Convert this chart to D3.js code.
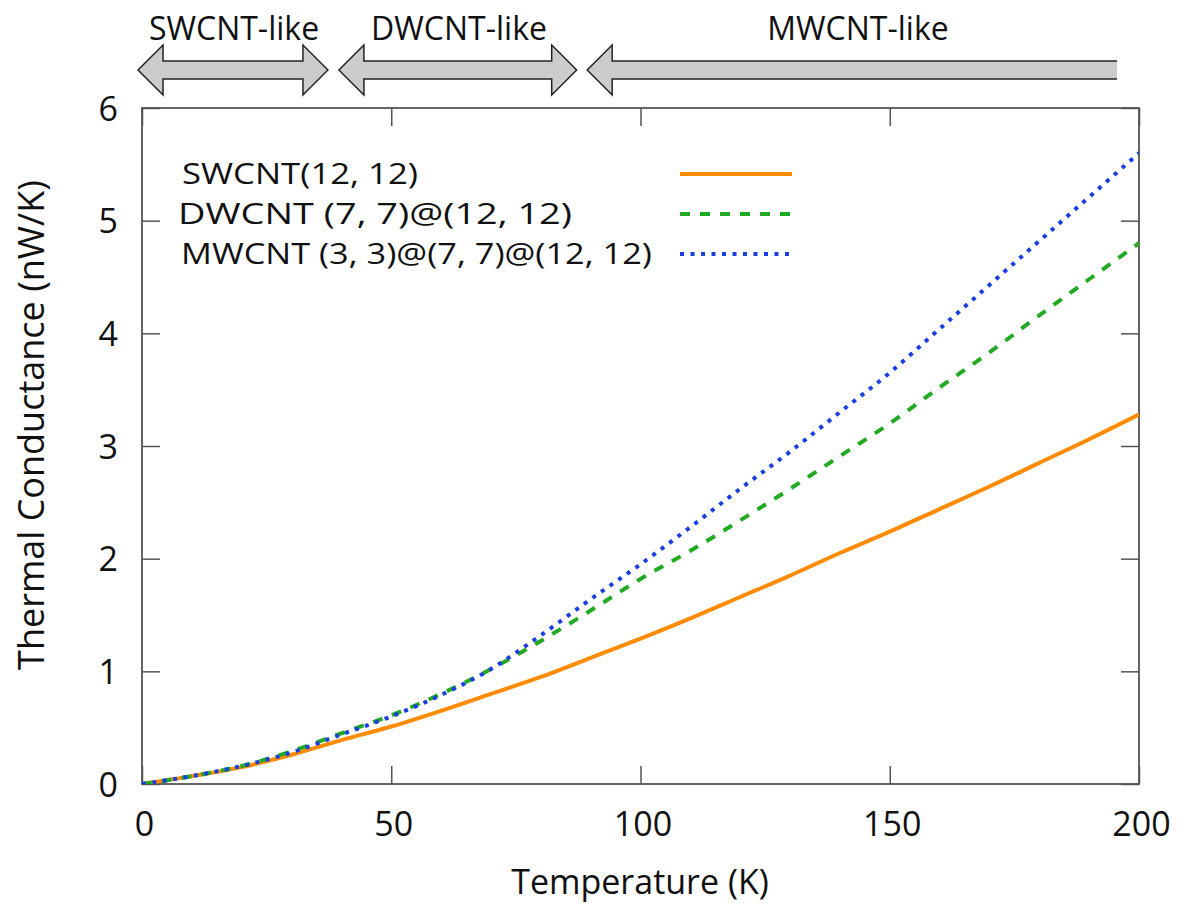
<!DOCTYPE html>
<html>
<head>
<meta charset="utf-8">
<script src="https://cdn.jsdelivr.net/npm/d3@7"></script>
<style>
  html, body { margin: 0; padding: 0; background: #fff; }
  svg text { font-family: "Open Sans", "Noto Sans", sans-serif; fill: #111; }
</style>
</head>
<body>
<svg id="chart" width="1184" height="904"></svg>
<script>
// ---- data ----
const temperatures = [0, 10, 20, 30, 40, 50, 60, 70, 80, 90, 100, 110, 120, 130, 140, 150, 160, 170, 180, 190, 200];
const swcnt = [0.0, 0.07, 0.15, 0.26, 0.39, 0.51, 0.65, 0.80, 0.95, 1.12, 1.29, 1.47, 1.66, 1.85, 2.05, 2.24, 2.44, 2.64, 2.85, 3.06, 3.28];
const dwcnt = [0.0, 0.07, 0.16, 0.29, 0.45, 0.61, 0.80, 1.02, 1.27, 1.54, 1.82, 2.07, 2.34, 2.62, 2.91, 3.20, 3.52, 3.83, 4.16, 4.48, 4.80];
const mwcnt = [0.0, 0.07, 0.16, 0.28, 0.44, 0.60, 0.79, 1.02, 1.32, 1.64, 1.95, 2.28, 2.62, 2.95, 3.30, 3.65, 4.04, 4.43, 4.82, 5.21, 5.60];
const seriesNames = ["SWCNT(12, 12)", "DWCNT (7, 7)@(12, 12)", "MWCNT (3, 3)@(7, 7)@(12, 12)"];
const xTicks = [0, 50, 100, 150, 200];
const yTicks = [0, 1, 2, 3, 4, 5, 6];
const regimeLabels = ["SWCNT-like", "DWCNT-like", "MWCNT-like"];
// regime spans in temperature units (arrow extents)
const regimeStart = [-0.8, 39.5, 89.3];
const regimeEnd = [37.3, 87.2, 195.6];
const regimeHeads = [[true, true], [true, true], [true, false]];
const xLabel = "Temperature (K)";
const yLabel = "Thermal Conductance (nW/K)";

// ---- layout ----
const svg = d3.select("#chart");
const L = 142, R = 1139, T = 108, B = 784;
const x = d3.scaleLinear().domain([0, 200]).range([L, R]);
const y = d3.scaleLinear().domain([0, 6]).range([B, T]);

const frameColor = "#555";

// clip
svg.append("defs").append("clipPath").attr("id", "clip")
  .append("rect").attr("x", L).attr("y", T).attr("width", R - L).attr("height", B - T);

// axes with inward ticks
const tickLen = 18;
const fs = 34;
const gx = svg.append("g").attr("transform", `translate(0,${B})`)
  .call(d3.axisBottom(x).tickValues(xTicks).tickSize(-tickLen).tickFormat(d3.format("d")));
const gxTop = svg.append("g").attr("transform", `translate(0,${T})`)
  .call(d3.axisTop(x).tickValues(xTicks).tickSize(-tickLen).tickFormat(""));
const gy = svg.append("g").attr("transform", `translate(${L},0)`)
  .call(d3.axisLeft(y).tickValues(yTicks).tickSize(-tickLen).tickFormat(d3.format("d")));
const gyR = svg.append("g").attr("transform", `translate(${R},0)`)
  .call(d3.axisRight(y).tickValues(yTicks).tickSize(-tickLen).tickFormat(""));

[gx, gxTop, gy, gyR].forEach(g => {
  g.select(".domain").remove();
  g.selectAll(".tick line").attr("stroke", frameColor).attr("stroke-width", 1.5);
  g.selectAll(".tick text").style("font-size", fs + "px").attr("fill", "#111");
});
gx.selectAll(".tick text").attr("dy", "0.35em").attr("y", 40).attr("x", 2);
gy.selectAll(".tick text").attr("x", -24).attr("dy", "0.36em");

// frame
svg.append("rect").attr("x", L).attr("y", T).attr("width", R - L).attr("height", B - T)
  .attr("fill", "none").attr("stroke", frameColor).attr("stroke-width", 1.8);

// lines
const series = [
  { name: seriesNames[0], vals: swcnt, color: "#ff8c00", dash: null },
  { name: seriesNames[1], vals: dwcnt, color: "#22aa22", dash: "10,10" },
  { name: seriesNames[2], vals: mwcnt, color: "#1a3fe0", dash: "4,6.5" }
];
const line = d3.line().x(d => x(d[0])).y(d => y(d[1])).curve(d3.curveMonotoneX);
const plot = svg.append("g").attr("clip-path", "url(#clip)");
series.forEach(s => {
  plot.append("path")
    .datum(temperatures.map((t, i) => [t, s.vals[i]]))
    .attr("d", line)
    .attr("fill", "none")
    .attr("stroke", s.color)
    .attr("stroke-width", 4)
    .attr("stroke-dasharray", s.dash);
});

// legend
const legY = [174, 214, 254];
const legX = [182, 178, 181];
const legW = [236, 394, 471];
series.forEach((s, i) => {
  svg.append("text").attr("x", legX[i]).attr("y", legY[i]).attr("dy", "0.36em")
    .style("font-size", "29px")
    .attr("textLength", legW[i]).attr("lengthAdjust", "spacingAndGlyphs")
    .text(s.name);
  svg.append("line").attr("x1", 680).attr("x2", 792).attr("y1", legY[i]).attr("y2", legY[i])
    .attr("stroke", s.color).attr("stroke-width", 4).attr("stroke-dasharray", s.dash);
});

// axis titles
svg.append("text").attr("x", 640).attr("y", 882).attr("dy", "0.35em")
  .attr("text-anchor", "middle").style("font-size", "34px").text(xLabel);
svg.append("text").attr("transform", `translate(31,425) rotate(-90)`)
  .attr("dy", "0.35em").attr("text-anchor", "middle").style("font-size", "36px").text(yLabel);

// regime arrows
const cy = 70, headL = 25, headH = 25, shaftH = 9;
function arrowPath(x0, x1, leftHead, rightHead) {
  const pts = [];
  if (leftHead) {
    pts.push([x0, cy], [x0 + headL, cy - headH], [x0 + headL, cy - shaftH]);
  } else {
    pts.push([x0, cy + shaftH], [x0, cy - shaftH]);
  }
  if (rightHead) {
    pts.push([x1 - headL, cy - shaftH], [x1 - headL, cy - headH], [x1, cy], [x1 - headL, cy + headH], [x1 - headL, cy + shaftH]);
  } else {
    pts.push([x1, cy - shaftH], [x1, cy + shaftH]);
  }
  if (leftHead) {
    pts.push([x0 + headL, cy + shaftH], [x0 + headL, cy + headH]);
  }
  return "M" + pts.map(p => p.join(",")).join("L") + "Z";
}
regimeLabels.forEach((lab, i) => {
  const x0 = x(regimeStart[i]), x1 = x(regimeEnd[i]);
  const [lh, rh] = regimeHeads[i];
  if (rh) {
    svg.append("path").attr("d", arrowPath(x0, x1, lh, rh))
      .attr("fill", "#cccccc").attr("stroke", "#222").attr("stroke-width", 1.5).attr("stroke-linejoin", "miter");
  } else {
    svg.append("path").attr("d", arrowPath(x0, x1, lh, rh))
      .attr("fill", "#cccccc").attr("stroke", "none");
    const p = `M${x1},${cy - shaftH}L${x0 + headL},${cy - shaftH}L${x0 + headL},${cy - headH}L${x0},${cy}L${x0 + headL},${cy + headH}L${x0 + headL},${cy + shaftH}L${x1},${cy + shaftH}`;
    svg.append("path").attr("d", p).attr("fill", "none").attr("stroke", "#222").attr("stroke-width", 1.5);
  }
});
const labelCenters = [234, 459, 858];
regimeLabels.forEach((lab, i) => {
  svg.append("text").attr("x", labelCenters[i]).attr("y", 29).attr("dy", "0.35em")
    .attr("text-anchor", "middle").style("font-size", "32px").text(lab);
});
</script>
</body>
</html>
